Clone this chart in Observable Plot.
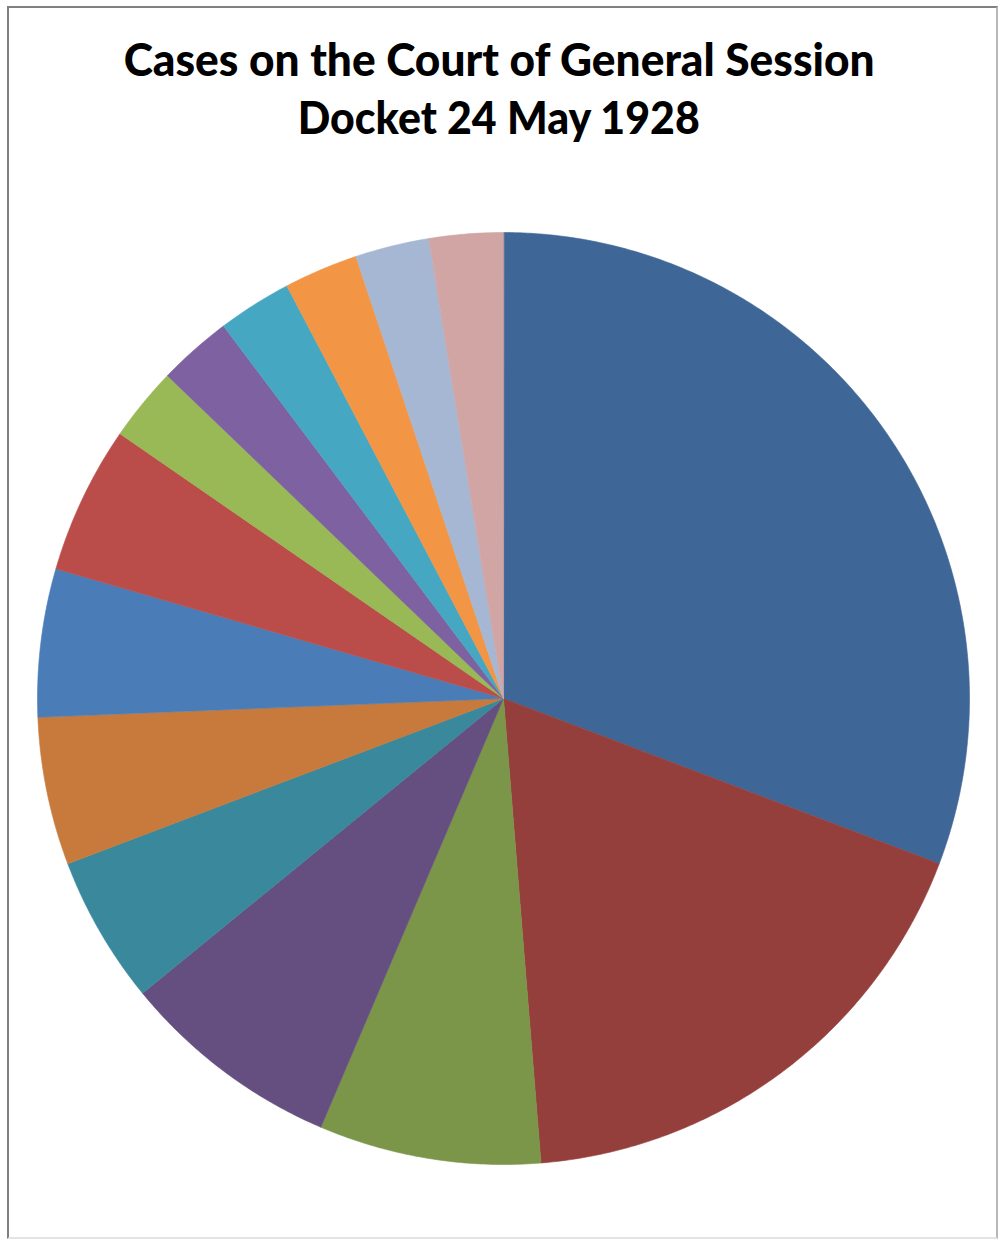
<!DOCTYPE html>
<html>
<head>
<meta charset="utf-8">
<script src="https://cdn.jsdelivr.net/npm/d3@7"></script>
<script src="https://cdn.jsdelivr.net/npm/@observablehq/plot@0.6"></script>
<style>
  html, body { margin: 0; padding: 0; background: #fff; }
  #page { position: relative; width: 998px; height: 1243px; overflow: hidden; }
  #frame { position: absolute; left: 7px; top: 6px; width: 987px; height: 1229px;
           border: 2px solid #808080; border-bottom-color: #e4e4e4; border-right-color: #b8b8b8; }
  .tline { position: absolute; left: 0; width: 998px; text-align: center;
           font-family: Lato, "Open Sans", sans-serif; font-weight: 900; font-size: 46px;
           color: #000; white-space: nowrap; line-height: 1; }
  .tline span { display: inline-block; transform-origin: center center; }
  #plot { position: absolute; left: 0; top: 180px; }
</style>
</head>
<body>
<div id="page">
  <div id="frame"></div>
  <div class="tline" id="t1" style="top:36px"><span>Cases on the Court of General Session</span></div>
  <div class="tline" id="t2" style="top:94px"><span>Docket 24 May 1928</span></div>
  <div id="plot"></div>
</div>
<script>
// Data (clockwise from 12 o'clock)
const categories = ["Case type 1","Case type 2","Case type 3","Case type 4","Case type 5","Case type 6","Case type 7",
                    "Case type 8","Case type 9","Case type 10","Case type 11","Case type 12","Case type 13","Case type 14"];
const counts = [12, 7, 3, 3, 2, 2, 2, 2, 1, 1, 1, 1, 1, 1];
const colors = ["#3E6696","#953F3C","#7B9649","#654F80","#3A889C","#C77A3B","#4A7DB8",
                "#BA4D4A","#98B956","#7D61A0","#46A7C2","#F29545","#A6B7D4","#D1A5A4"];

// Fit title lines to the reference widths
function fit(id, w) {
  const s = document.querySelector("#" + id + " span");
  const r = s.getBoundingClientRect().width;
  s.style.transform = "scaleX(" + (w / r) + ")";
}
fit("t1", 751); fit("t2", 402);

// Build slice outlines from the pie layout
const pie = d3.pie().sort(null).value(d => d.count).startAngle(0).endAngle(2 * Math.PI);
const arcs = pie(categories.map((name, i) => ({name, count: counts[i]})));
const pts = [];
for (const a of arcs) {
  const name = a.data.name;
  pts.push({name, x: 0, y: 0});
  const n = Math.max(4, Math.ceil((a.endAngle - a.startAngle) / (Math.PI / 360)));
  for (let k = 0; k <= n; k++) {
    const t = a.startAngle + (a.endAngle - a.startAngle) * k / n;
    pts.push({name, x: Math.sin(t), y: Math.cos(t)});
  }
}

const chart = Plot.plot({
  width: 998,
  height: 1060,
  marginLeft: 37,
  marginRight: 29,
  marginTop: 52,
  marginBottom: 76,
  x: {domain: [-1, 1], axis: null},
  y: {domain: [-1, 1], axis: null},
  color: {domain: categories, range: colors},
  marks: [
    Plot.line(pts, {x: "x", y: "y", z: "name", fill: "name", stroke: "name", strokeWidth: 0.6, curve: "linear-closed"})
  ]
});
document.getElementById("plot").appendChild(chart);
</script>
</body>
</html>
